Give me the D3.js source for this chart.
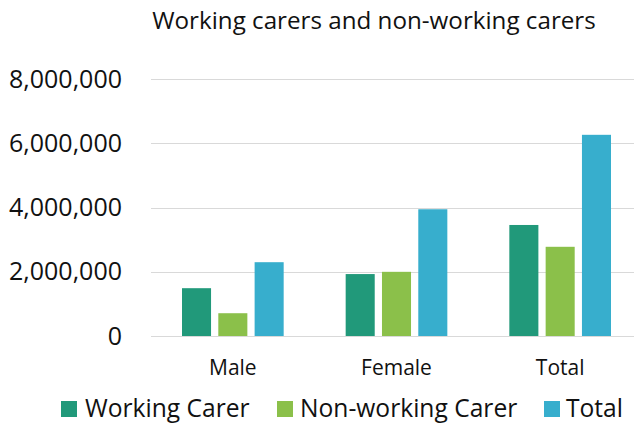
<!DOCTYPE html>
<html>
<head>
<meta charset="utf-8">
<script src="https://cdn.jsdelivr.net/npm/d3@7"></script>
<style>
  html, body { margin: 0; padding: 0; background: #fff; }
  svg { display: block; font-family: "Open Sans", "Noto Sans", sans-serif; }
</style>
</head>
<body>
<svg id="chart" width="634" height="425"></svg>
<script>
// Carers by sex, split into working and non-working
const categories = ["Male", "Female", "Total"];
const seriesNames = ["Working Carer", "Non-working Carer", "Total"];
const workingCarer = [1490000, 1930000, 3460000];
const nonWorkingCarer = [710000, 2000000, 2780000];
const totalCarers = [2300000, 3950000, 6270000];
const yTicks = [0, 2000000, 4000000, 6000000, 8000000];
const seriesColors = ["#21997a", "#8bc04a", "#37aecd"];

const seriesValues = [workingCarer, nonWorkingCarer, totalCarers];
const rows = categories.map((c, i) => ({
  category: c,
  values: seriesNames.map((s, j) => ({ series: s, value: seriesValues[j][i], idx: j }))
}));

const svg = d3.select("#chart");
const plotLeft = 151, plotRight = 642, plotTop = 79.3, plotBottom = 336;

const x0 = d3.scaleBand().domain(categories).range([plotLeft, plotRight]).paddingInner(0).paddingOuter(0);
const x1 = d3.scaleBand().domain(seriesNames).range([31, x0.bandwidth() - 31]).paddingInner(0.2).paddingOuter(0);
const y = d3.scaleLinear().domain([0, 8000000]).range([plotBottom, plotTop]);

// Title
svg.append("text")
  .attr("x", 374).attr("y", 29)
  .attr("text-anchor", "middle")
  .attr("font-size", 24.2)
  .attr("fill", "#111")
  .text("Working carers and non-working carers");

// Gridlines and y tick labels
const yAxis = d3.axisLeft(y).tickValues(yTicks).tickSize(0).tickPadding(0)
  .tickFormat(d3.format(","));
const gy = svg.append("g").attr("transform", `translate(${plotLeft - 29},0)`).call(yAxis);
gy.select(".domain").remove();
gy.selectAll("text").attr("font-size", 25).attr("fill", "#111").attr("font-family", "Open Sans, sans-serif");

svg.append("g").selectAll("line").data(yTicks).join("line")
  .attr("x1", plotLeft).attr("x2", 634)
  .attr("y1", d => Math.round(y(d)) + 0.5).attr("y2", d => Math.round(y(d)) + 0.5)
  .attr("stroke", "#d9d9d9").attr("stroke-width", 1);

// Bars
svg.append("g").selectAll("g").data(rows).join("g")
  .attr("transform", d => `translate(${x0(d.category)},0)`)
  .selectAll("rect").data(d => d.values).join("rect")
  .attr("x", d => x1(d.series))
  .attr("width", x1.bandwidth())
  .attr("y", d => y(d.value))
  .attr("height", d => y(0) - y(d.value))
  .attr("fill", d => seriesColors[d.idx]);

// Category axis labels
const xAxis = d3.axisBottom(x0).tickSize(0).tickPadding(0);
const gx = svg.append("g").attr("transform", `translate(0,${plotBottom + 23})`).call(xAxis);
gx.select(".domain").remove();
gx.selectAll("text").attr("font-size", 21).attr("fill", "#111").attr("font-family", "Open Sans, sans-serif")
  .attr("dy", "0.75em");

// Legend
const legendItems = [
  { name: seriesNames[0], sx: 61, tx: 85 },
  { name: seriesNames[1], sx: 277, tx: 300 },
  { name: seriesNames[2], sx: 544, tx: 566 }
];
const lg = svg.append("g");
legendItems.forEach((it, i) => {
  lg.append("rect").attr("x", it.sx).attr("y", 401).attr("width", 16).attr("height", 16)
    .attr("fill", seriesColors[i]);
  lg.append("text").attr("x", it.tx).attr("y", 417).attr("font-size", 24.6).attr("fill", "#111")
    .text(it.name);
});
</script>
</body>
</html>
